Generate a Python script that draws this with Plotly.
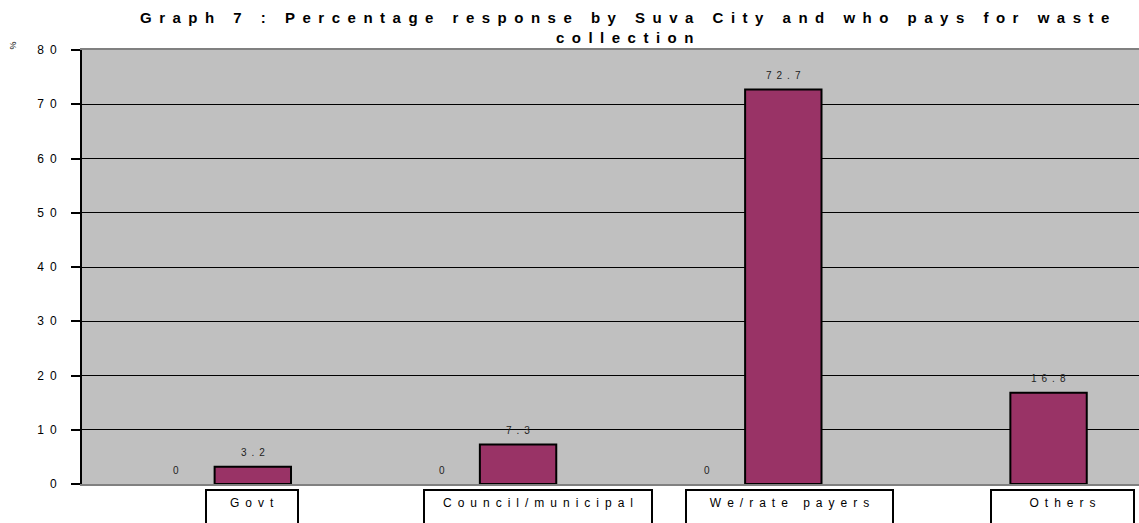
import plotly.graph_objects as go

categories = ["Govt", "Council/municipal", "We/rate payers", "Others"]
series_a = [0, 0, 0, None]
series_b = [3.2, 7.3, 72.7, 16.8]
y_ticks = [0, 10, 20, 30, 40, 50, 60, 70, 80]
title_lines = ["Graph 7 : Percentage response by Suva City and who pays for waste", "collection"]

BARGAP = 0.424
PLOT_W = 1057
X_RANGE = [-0.5, 3.485]


def spaced(s, gap="\u2002"):
    return gap.join(list(s))


def fmt(v):
    return spaced(f"{v:g}", "\u2002")


fig = go.Figure()
fig.add_trace(go.Bar(
    x=categories, y=series_a, marker=dict(color="#993366", line=dict(color="black", width=0)),
    showlegend=False,
))
fig.add_trace(go.Bar(
    x=categories, y=series_b, marker=dict(color="#993366", line=dict(color="black", width=2)),
    showlegend=False,
))

annotations = []
# data labels, placed above each bar through the axes
slot = PLOT_W / (X_RANGE[1] - X_RANGE[0])
half = slot * (1 - BARGAP) / 4
for series, sign in ((series_a, -1), (series_b, 1)):
    for c, v in zip(categories, series):
        if v is None:
            continue
        annotations.append(dict(
            x=c, xref="x", y=v, yref="y", yanchor="middle", xanchor="center",
            xshift=sign * half, yshift=14, text=fmt(v), showarrow=False,
            font=dict(size=10, color="#222222"),
        ))

box_shift = [37, 58, 44, 52]
box_width = [80, 216, 195, 131]
for c, sh, w in zip(categories, box_shift, box_width):
    annotations.append(dict(
        x=c, xref="x", y=0, yref="paper", yanchor="top", xanchor="center",
        xshift=sh, yshift=-5, text=spaced(c, "\u2002"), showarrow=False,
        font=dict(size=12, color="black"), bordercolor="black", borderwidth=2,
        borderpad=5, width=w, height=50, valign="top", bgcolor="white",
    ))
annotations.append(dict(
    xref="paper", yref="paper", x=-0.065, y=1.011, xanchor="center", yanchor="middle",
    text="%", showarrow=False, font=dict(size=9, color="black"), textangle=-90,
))
annotations.append(dict(
    xref="paper", yref="paper", x=0.5137, y=1.099, xanchor="center", yanchor="top",
    text="<br>".join(spaced(t) for t in title_lines), showarrow=False,
    font=dict(size=15, color="black", weight="bold"),
))

fig.update_layout(
    width=1139, height=523,
    margin=dict(l=82, r=0, t=50, b=39),
    paper_bgcolor="white", plot_bgcolor="#c0c0c0",
    font=dict(family="Liberation Sans, Arial, sans-serif", color="black"),
    barmode="group", bargap=BARGAP, bargroupgap=0,
    annotations=annotations,
)
fig.update_xaxes(range=X_RANGE, showticklabels=False, ticks="", showline=True, linecolor="#808080",
                 linewidth=2, mirror=True, showgrid=False)
fig.update_yaxes(range=[0, 80], tickvals=y_ticks, ticktext=[spaced(str(v), "\u2002") for v in y_ticks],
                 ticks="outside", ticklen=9, tickwidth=2, tickcolor="black",
                 ticklabelstandoff=12,
                 showline=True, linecolor="black", linewidth=2,
                 showgrid=True, gridcolor="black", gridwidth=1, zeroline=False,
                 tickfont=dict(size=12, color="black"))

fig.write_html("out.html", config={"displayModeBar": False},
               post_script="document.body.style.margin='0';document.body.style.overflow='hidden';")
